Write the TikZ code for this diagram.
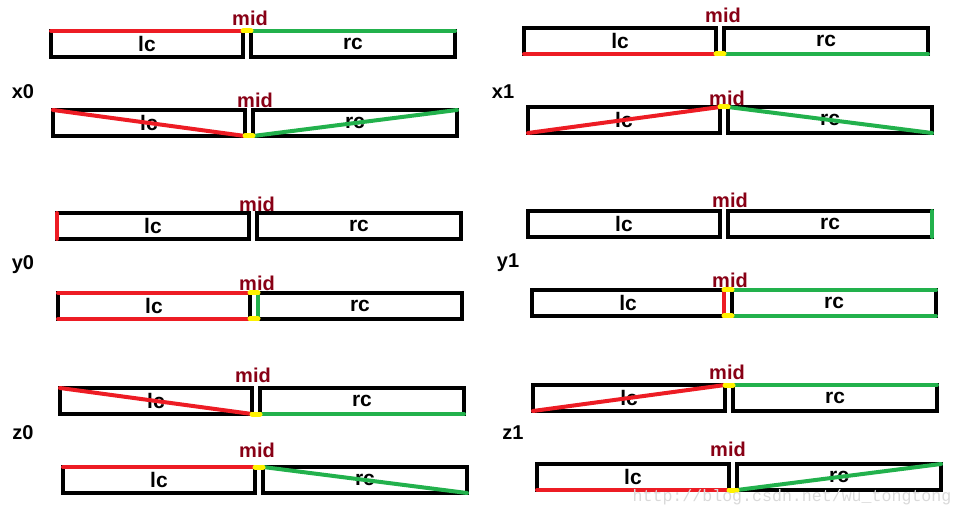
\documentclass[tikz,border=0pt]{standalone}
\usepackage{fontspec}
\setmainfont{Liberation Sans}
\newfontfamily\markfont{Liberation Mono}
\usetikzlibrary{positioning}

\definecolor{paintred}{HTML}{ED1C24}
\definecolor{paintgreen}{HTML}{22B14C}
\definecolor{paintyellow}{HTML}{FFF200}
\definecolor{midred}{HTML}{880015}

\begin{document}
\begin{tikzpicture}[
    x=0.5pt, y=-0.5pt,
    half/.style={
      draw,
      line width=2pt,
      minimum height=13pt,
      inner sep=0pt,
      outer sep=0pt,
      text depth=-1pt,
      font=\bfseries\fontsize{10.5}{12}\selectfont
    },
    lbox/.style={half, minimum width=96pt, anchor=north west},
    rbox/.style={half, minimum width=102pt},
    midlabel/.style={font=\bfseries\fontsize{10}{12}\selectfont, text=midred},
    case/.style={font=\bfseries\fontsize{10}{12}\selectfont},
    lcline/.style={draw=paintred, line width=2pt, line cap=round},
    rcline/.style={draw=paintgreen, line width=2pt, line cap=round},
    midline/.style={draw=paintyellow, line width=2.5pt, line cap=round}
  ]
    \useasboundingbox (0,0) rectangle (964,518);

    % left column
    \node[lbox] (lc1) at (51,31) {lc};
    \node[rbox, right=4pt of lc1] (rc1) {rc};
    \node[lbox] (lc2) at (53,110) {lc};
    \node[rbox, right=4pt of lc2] (rc2) {rc};
    \node[lbox] (lc5) at (57,213) {lc};
    \node[rbox, right=4pt of lc5] (rc5) {rc};
    \node[lbox] (lc6) at (58,293) {lc};
    \node[rbox, right=4pt of lc6] (rc6) {rc};
    \node[lbox] (lc9) at (60,388) {lc};
    \node[rbox, right=4pt of lc9] (rc9) {rc};
    \node[lbox] (lc10) at (63,467) {lc};
    \node[rbox, right=4pt of lc10] (rc10) {rc};

    % right column
    \node[lbox] (lc3) at (524,28) {lc};
    \node[rbox, right=4pt of lc3] (rc3) {rc};
    \node[lbox] (lc4) at (528,107) {lc};
    \node[rbox, right=4pt of lc4] (rc4) {rc};
    \node[lbox] (lc7) at (528,211) {lc};
    \node[rbox, right=4pt of lc7] (rc7) {rc};
    \node[lbox] (lc8) at (532,290) {lc};
    \node[rbox, right=4pt of lc8] (rc8) {rc};
    \node[lbox] (lc11) at (533,385) {lc};
    \node[rbox, right=4pt of lc11] (rc11) {rc};
    \node[lbox] (lc12) at (537,464) {lc};
    \node[rbox, right=4pt of lc12] (rc12) {rc};

    \node[midlabel] (mid1) at (250,18) {mid};
    \node[midlabel] (mid2) at (255,100) {mid};
    \node[midlabel] (mid3) at (723,15) {mid};
    \node[midlabel] (mid4) at (727,98) {mid};
    \node[midlabel] (mid5) at (257,204) {mid};
    \node[midlabel] (mid6) at (257,283) {mid};
    \node[midlabel] (mid7) at (730,200) {mid};
    \node[midlabel] (mid8) at (730,280) {mid};
    \node[midlabel] (mid9) at (253,375) {mid};
    \node[midlabel] (mid10) at (257,450) {mid};
    \node[midlabel] (mid11) at (727,372) {mid};
    \node[midlabel] (mid12) at (728,449) {mid};

    \node[case] (x0) at (23,92) {x0};
    \node[case] (x1) at (503,92) {x1};
    \node[case] (y0) at (23,265) {y0};
    \node[case] (y1) at (508,263) {y1};
    \node[case] (z0) at (23,433) {z0};
    \node[case] (z1) at (513,433) {z1};

    % x0
    \draw[lcline] (lc1.north west) -- (lc1.north east);
    \draw[rcline] (rc1.north west) -- (rc1.north east);
    \draw[midline] (lc1.north east) -- (rc1.north west);
    \draw[lcline] (lc2.north west) -- (lc2.south east);
    \draw[rcline] (rc2.south west) -- (rc2.north east);
    \draw[midline] (lc2.south east) -- (rc2.south west);

    % x1
    \draw[lcline] (lc3.south west) -- (lc3.south east);
    \draw[rcline] (rc3.south west) -- (rc3.south east);
    \draw[midline] (lc3.south east) -- (rc3.south west);
    \draw[lcline] (lc4.south west) -- (lc4.north east);
    \draw[rcline] (rc4.north west) -- (rc4.south east);
    \draw[midline] (lc4.north east) -- (rc4.north west);

    % y0
    \draw[lcline] (lc5.north west) -- (lc5.south west);
    \draw[lcline] (lc6.north west) -- (lc6.north east);
    \draw[lcline] (lc6.south west) -- (lc6.south east);
    \draw[rcline] (rc6.north west) -- (rc6.south west);
    \draw[midline] (lc6.north east) -- (rc6.north west);
    \draw[midline] (lc6.south east) -- (rc6.south west);

    % y1
    \draw[rcline] (rc7.north east) -- (rc7.south east);
    \draw[lcline] (lc8.north east) -- (lc8.south east);
    \draw[rcline] (rc8.north west) -- (rc8.north east);
    \draw[rcline] (rc8.south west) -- (rc8.south east);
    \draw[midline] (lc8.north east) -- (rc8.north west);
    \draw[midline] (lc8.south east) -- (rc8.south west);

    % z0
    \draw[lcline] (lc9.north west) -- (lc9.south east);
    \draw[rcline] (rc9.south west) -- (rc9.south east);
    \draw[midline] (lc9.south east) -- (rc9.south west);
    \draw[lcline] (lc10.north west) -- (lc10.north east);
    \draw[rcline] (rc10.north west) -- (rc10.south east);
    \draw[midline] (lc10.north east) -- (rc10.north west);

    % z1
    \draw[lcline] (lc11.south west) -- (lc11.north east);
    \draw[rcline] (rc11.north west) -- (rc11.north east);
    \draw[midline] (lc11.north east) -- (rc11.north west);
    \draw[lcline] (lc12.south west) -- (lc12.south east);
    \draw[rcline] (rc12.south west) -- (rc12.north east);
    \draw[midline] (lc12.south east) -- (rc12.south west);

    \node[font=\markfont\fontsize{8.3}{10}\selectfont, text=black!15] (mark) at (792,497) {http://blog.csdn.net/wu\_tongtong};
  \end{tikzpicture}
\end{document}
